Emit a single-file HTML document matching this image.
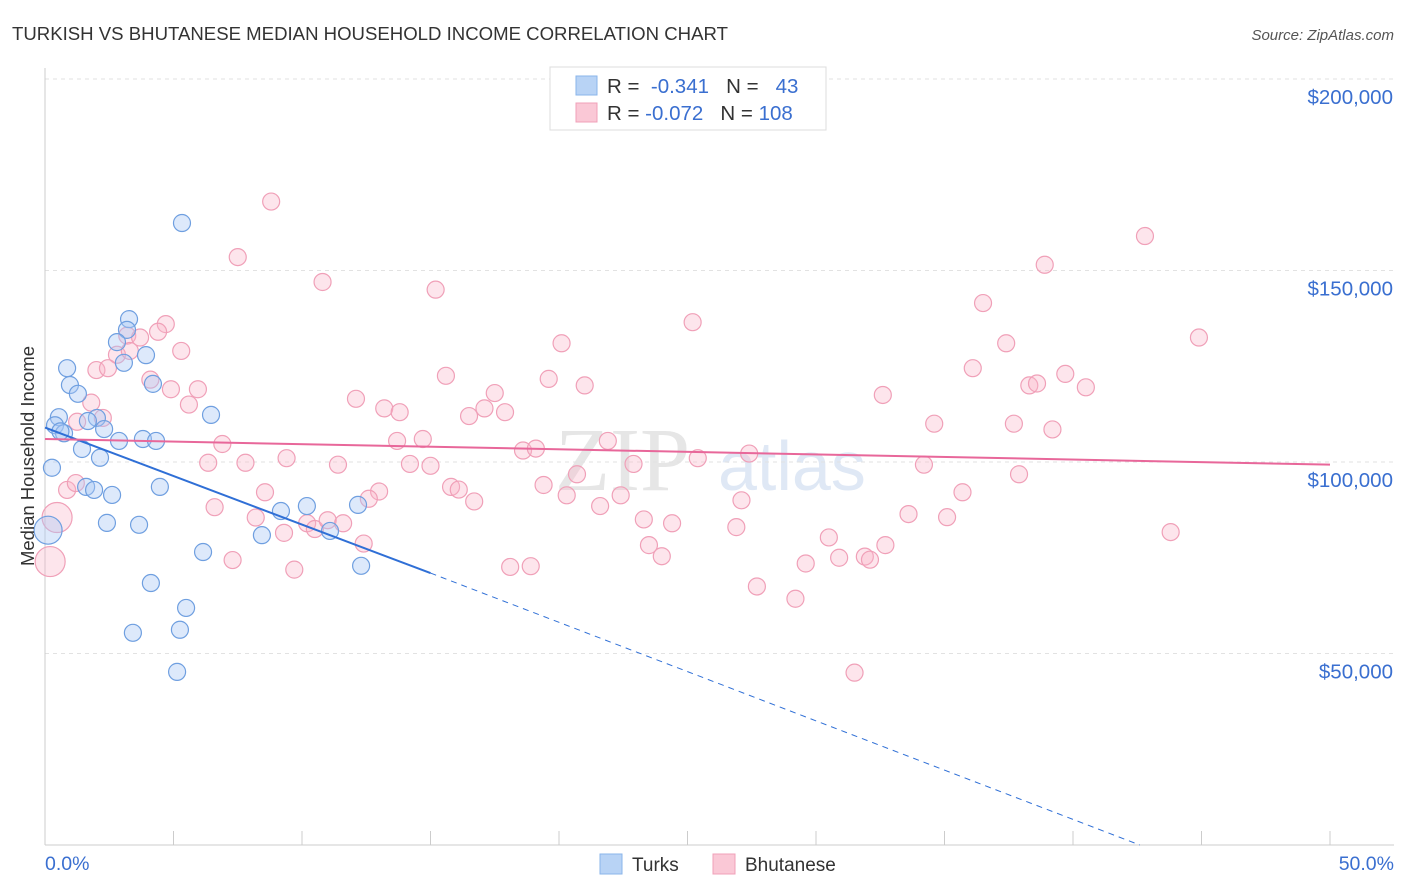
<!DOCTYPE html>
<html><head><meta charset="utf-8">
<style>
body{margin:0;background:#fff;font-family:"Liberation Sans",sans-serif;}
svg{display:block}
</style></head>
<body>
<svg id="chart" width="1406" height="892" xmlns="http://www.w3.org/2000/svg" font-family="Liberation Sans, sans-serif">
<text x="12" y="40" font-size="18.6" fill="#333">TURKISH VS BHUTANESE MEDIAN HOUSEHOLD INCOME CORRELATION CHART</text>
<text x="1394" y="40" font-size="15" fill="#555" text-anchor="end" font-style="italic">Source: ZipAtlas.com</text>
<text x="555" y="490" font-size="90" fill="#e6e6e6" font-family="Liberation Serif, serif">ZIP</text>
<text x="718" y="490" font-size="70" fill="#dfe8f5">atlas</text>
<g id="grid"></g>
<g id="axes"></g>
<g id="pink"></g>
<g id="blue"></g>
<g id="lines"></g>
<text transform="translate(34,456) rotate(-90)" font-size="18.5" fill="#333" text-anchor="middle">Median Household Income</text>
<text x="45" y="870" font-size="19.5" fill="#3a6fd0">0.0%</text>
<text x="1394" y="870" font-size="19.5" fill="#3a6fd0" text-anchor="end">50.0%</text>
<g>
<rect x="550" y="67" width="276" height="63" fill="#fff" stroke="#ddd"/>
<rect x="576" y="76" width="21" height="19" fill="#b8d3f5" stroke="#8ab4ea"/>
<rect x="576" y="103" width="21" height="19" fill="#fac8d6" stroke="#f0a0b8"/>
<text x="607" y="93" font-size="20.5" fill="#333">R = <tspan fill="#3a6fd0">&#160;-0.341</tspan>&#160;&#160;&#160;N = <tspan fill="#3a6fd0">&#160;&#160;43</tspan></text>
<text x="607" y="120" font-size="20.5" fill="#333">R = <tspan fill="#3a6fd0">-0.072</tspan>&#160;&#160;&#160;N = <tspan fill="#3a6fd0">108</tspan></text>
</g>
<g>
<rect x="600" y="854" width="22" height="20" fill="#b8d3f5" stroke="#8ab4ea"/>
<text x="632" y="871" font-size="19" fill="#333">Turks</text>
<rect x="713" y="854" width="22" height="20" fill="#fac8d6" stroke="#f0a0b8"/>
<text x="745" y="871" font-size="19" fill="#333">Bhutanese</text>
</g>
</svg>
<script>
const yTicks=[50000,100000,150000,200000];
const yTickLabels=["$50,000","$100,000","$150,000","$200,000"];
const turksX=[5.33,3.27,3.19,2.80,3.93,3.07,0.86,0.97,4.2,1.28,0.54,2.02,6.46,1.67,0.39,0.74,2.30,2.88,3.81,4.32,1.44,2.14,0.27,1.60,1.91,2.61,4.47,9.18,10.19,12.18,2.41,3.66,0.12,8.44,11.09,6.15,12.30,4.12,5.49,3.42,5.25,5.14,0.6];
const turksY=[162400,137300,134500,131300,127900,125900,124500,120100,120400,117800,111700,111500,112300,110700,109600,107500,108600,105500,106000,105500,103400,101100,98500,93500,92700,91400,93500,87200,88500,88800,84100,83600,82200,80900,82000,76500,72900,68400,61900,55400,56200,45200,108000];
const bhutX=[8.8,7.5,10.8,15.2,42.8,38.9,36.5,25.2,4.7,3.2,4.4,3.7,2.8,3.3,5.3,20.1,44.9,37.4,2.0,2.45,4.1,4.9,5.95,15.6,19.6,21.0,36.1,39.7,38.3,38.6,40.5,12.1,17.5,32.6,1.8,5.6,13.2,13.8,16.5,17.1,17.9,34.6,37.7,39.2,1.25,2.25,6.9,13.7,14.7,18.6,19.1,21.9,6.35,7.8,9.4,11.4,14.2,15.0,22.9,25.4,27.4,34.2,20.7,0.86,1.2,8.56,13.0,15.8,16.1,16.7,19.4,20.3,21.6,22.4,27.1,35.7,37.9,6.6,8.2,9.3,10.2,10.5,11.0,11.6,12.4,12.6,23.3,24.4,26.9,33.6,35.1,43.8,0.47,0.2,7.3,9.7,18.1,18.9,23.5,24.0,30.5,30.9,31.9,32.1,29.6,32.7,27.7,29.2,31.5];
const bhutY=[168000,153500,147000,145000,159000,151500,141500,136500,136000,133000,134000,132500,128000,129000,129000,131000,132500,131000,124000,124500,121500,119000,119000,122500,121700,120000,124500,123000,120000,120500,119500,116500,118000,117500,115500,115000,114000,113000,112000,114000,113000,110000,110000,108500,110500,111500,104700,105500,106000,103000,103500,105500,99800,99800,101000,99300,99500,99000,99500,101000,102200,99300,96800,92700,94500,92100,92300,93500,92800,89700,94000,91300,88500,91300,90000,92100,96800,88200,85500,81500,84000,82500,84800,84000,78700,90400,85000,84000,83000,86400,85600,81700,85500,74000,74400,71900,72600,72800,78300,75400,80300,75000,75300,74500,73500,78300,67500,64300,45000];
const X=p=>45+p/50*1285, Y=v=>845-v/50000*191.5;
const NS="http://www.w3.org/2000/svg";
function mk(t,a,par){const e=document.createElementNS(NS,t);for(const k in a)e.setAttribute(k,a[k]);document.getElementById(par).appendChild(e);return e;}
yTicks.forEach((v,i)=>{
 const l=mk('line',{x1:45,x2:1394,y1:Y(v),y2:Y(v),stroke:'#e2e2e2','stroke-dasharray':'4,4'},'grid');
 
 
 const t=mk('text',{x:1393,y:Y(v)+25,'font-size':20.5,fill:'#3a6fd0','text-anchor':'end'},'grid');
 t.textContent=yTickLabels[i];
 
 
});
const a1=mk('line',{x1:45,x2:1394,y1:845,y2:845,stroke:'#ccc'},'axes');


const a2=mk('line',{x1:45,x2:45,y1:68,y2:845,stroke:'#ccc'},'axes');


for(let i=0;i<=10;i++){const t=mk('line',{x1:X(i*5),x2:X(i*5),y1:831,y2:845,stroke:'#ccc'},'axes');
 
 }
bhutX.forEach((x,i)=>{const big=(i==92||i==93);const c=mk('circle',{cx:X(x),cy:Y(bhutY[i]),r:big?15:8.5,fill:'rgba(248,180,200,0.35)',stroke:'#f0a0b8','stroke-width':1.2},'pink');
 
 });
turksX.forEach((x,i)=>{const big=(i==32);const c=mk('circle',{cx:X(x),cy:Y(turksY[i]),r:big?14:8.5,fill:'rgba(170,200,245,0.4)',stroke:'#6f9fe0','stroke-width':1.2},'blue');
 
 });
const l1=mk('line',{x1:X(0),y1:Y(109000),x2:X(15),y2:Y(71000),stroke:'#2f6fd6','stroke-width':2},'lines');


const l2=mk('line',{x1:X(15),y1:Y(71000),x2:X(42.6),y2:Y(0),stroke:'#2f6fd6','stroke-width':1,'stroke-dasharray':'6,5'},'lines');


const l3=mk('line',{x1:X(0),y1:Y(106000),x2:X(50),y2:Y(99300),stroke:'#e8679a','stroke-width':2},'lines');


</script>
</body></html>
